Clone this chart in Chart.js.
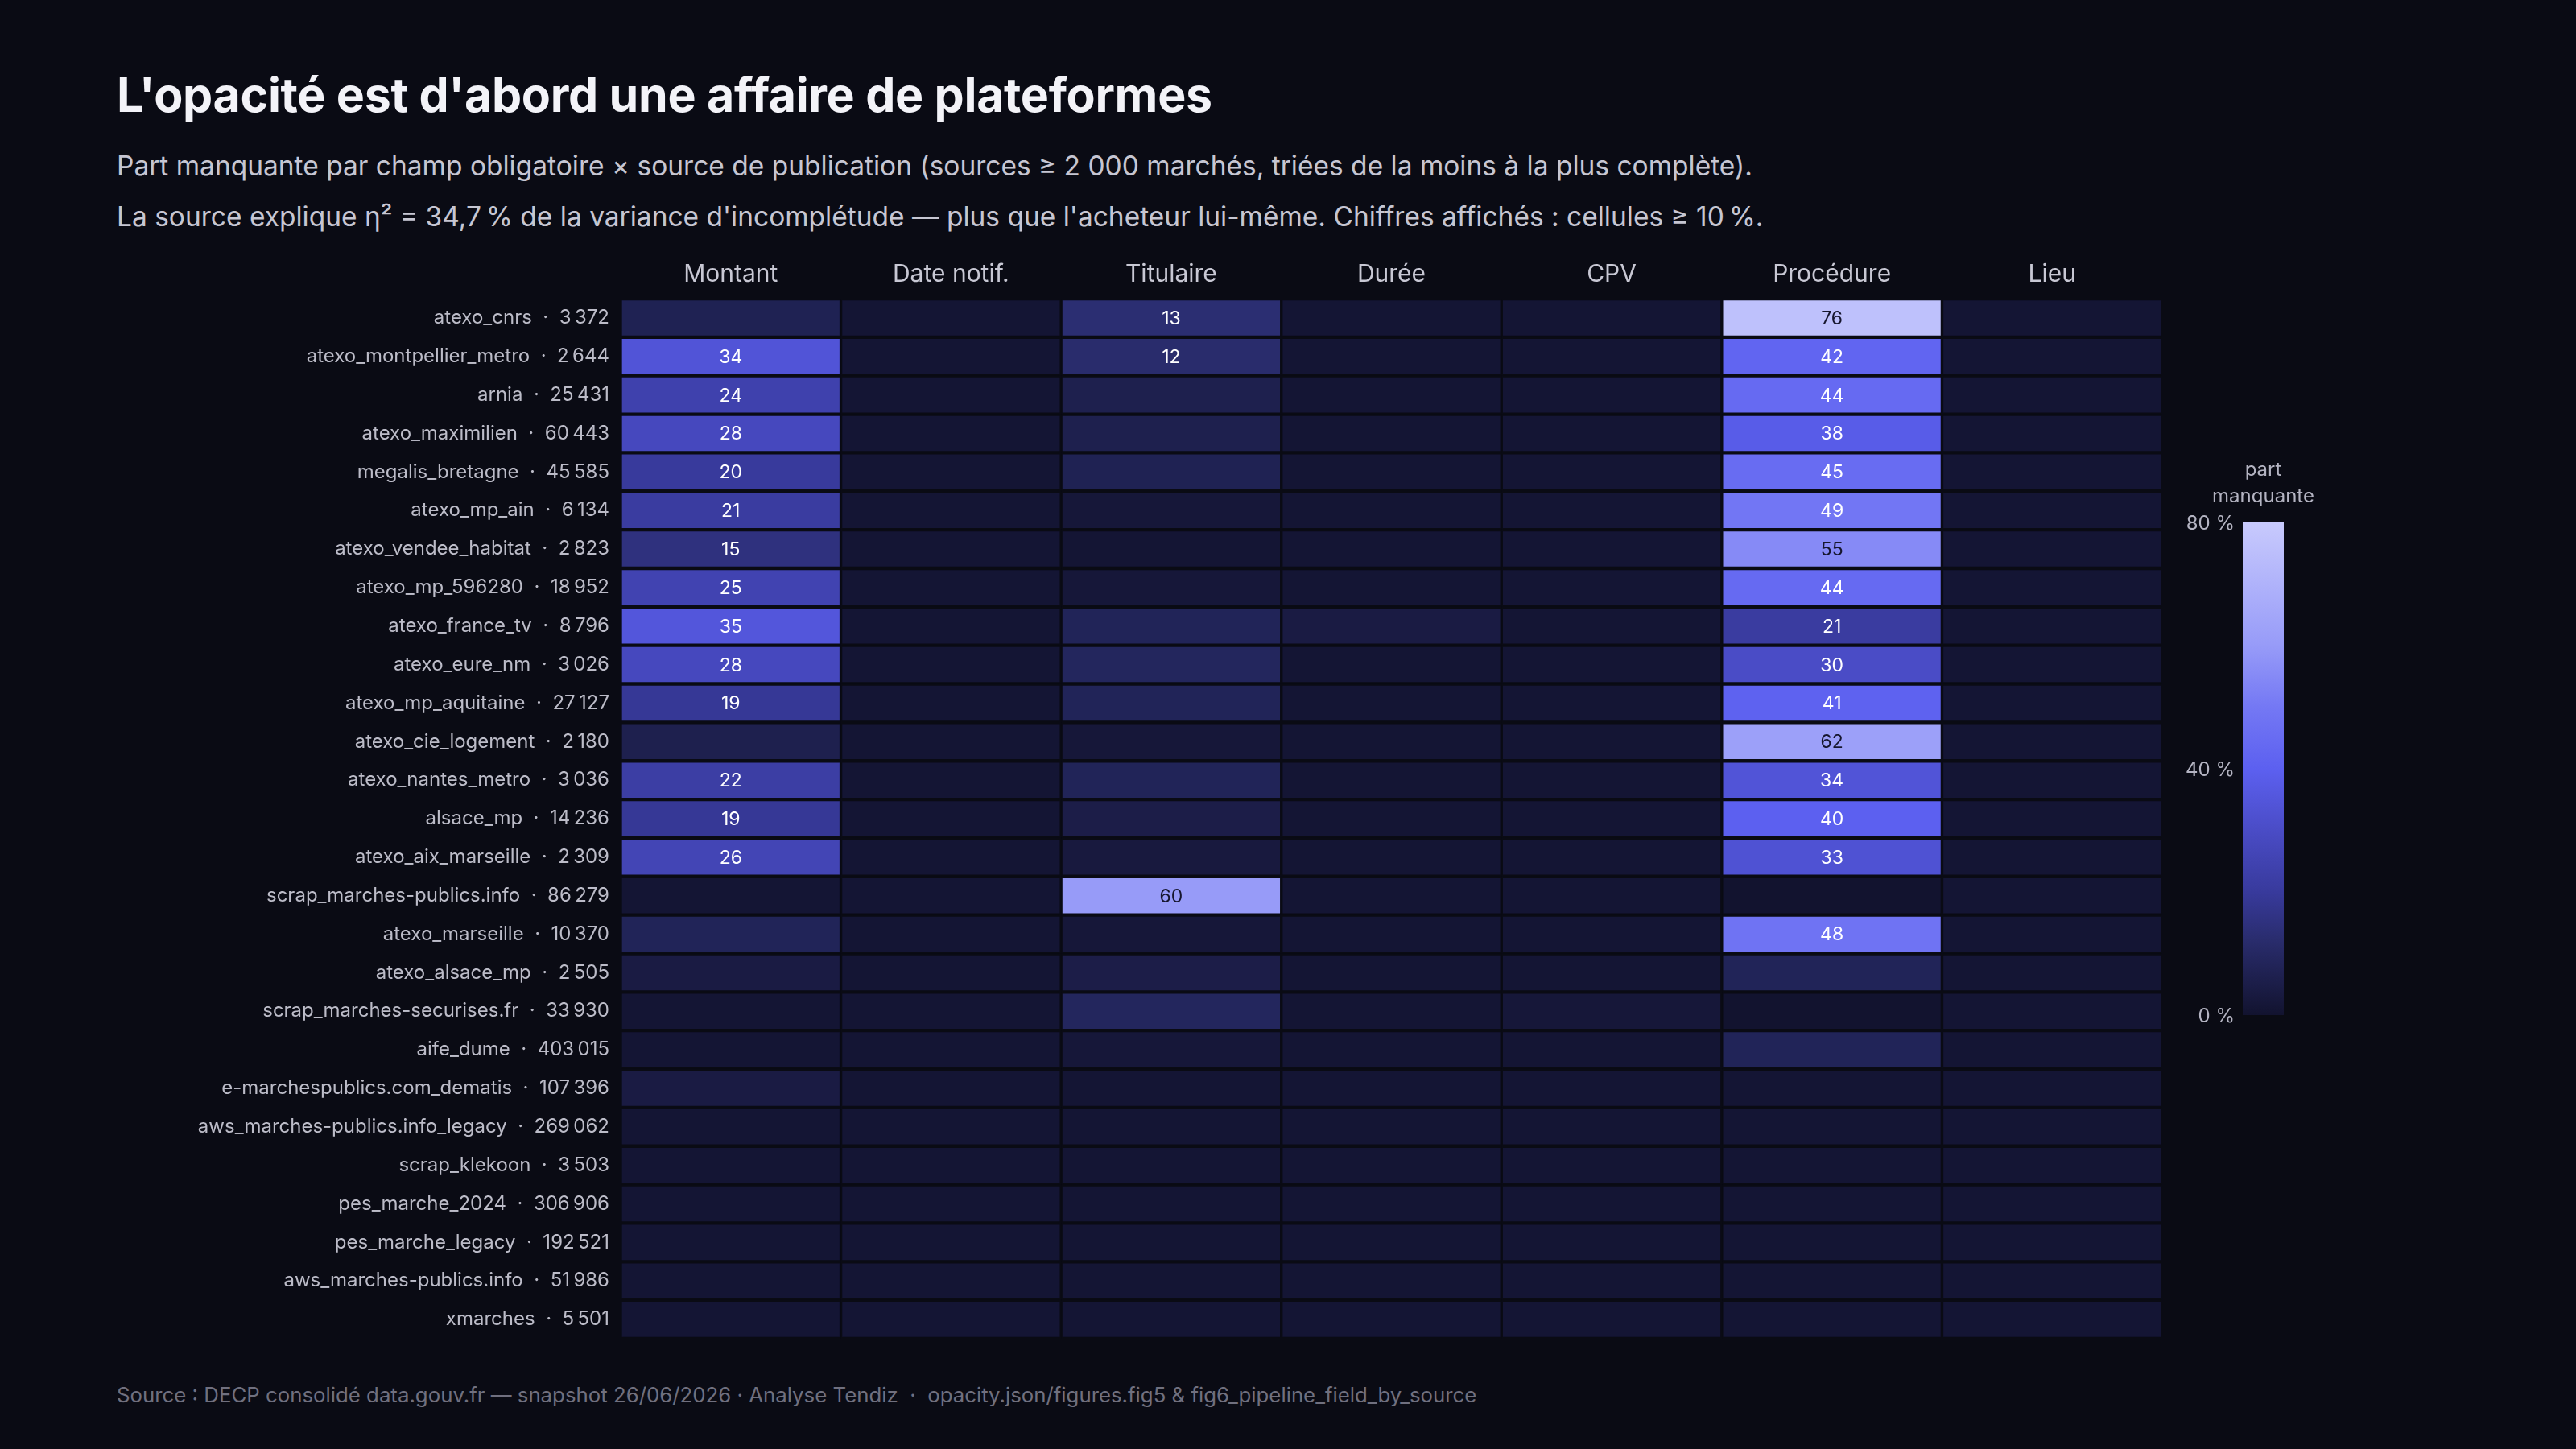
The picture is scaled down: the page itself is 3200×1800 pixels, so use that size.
<!DOCTYPE html>
<html>
<head>
<meta charset="utf-8">
<script src="https://cdn.jsdelivr.net/npm/chart.js@4.4.1/dist/chart.umd.min.js"></script>
<style>
  html, body { margin: 0; padding: 0; background: #0a0b14; }
  body { width: 3200px; height: 1800px; position: relative; overflow: hidden;
         font-family: Inter, "DejaVu Sans", sans-serif; }
  .txt { position: absolute; left: 145px; white-space: pre; }
  #title { top: 84px; font-size: 59px; line-height: 68px; font-weight: 700; color: #f3f3f8; letter-spacing: -0.3px; }
  #sub1 { top: 187px; font-size: 33.5px; line-height: 38px; color: #c6c6d2; }
  #sub2 { top: 250px; font-size: 33.5px; line-height: 38px; color: #c6c6d2; }
  #foot { top: 1717px; font-size: 25.8px; line-height: 32px; color: #70707f; }
  #wrap { position: absolute; left: 0; top: 0; width: 3200px; height: 1800px; }
</style>
</head>
<body>
<div class="txt" id="title">L'opacité est d'abord une affaire de plateformes</div>
<div class="txt" id="sub1">Part manquante par champ obligatoire × source de publication (sources ≥ 2 000 marchés, triées de la moins à la plus complète).</div>
<div class="txt" id="sub2">La source explique η² = 34,7&#8239;% de la variance d'incomplétude — plus que l'acheteur lui-même. Chiffres affichés : cellules ≥ 10&#8239;%.</div>
<div class="txt" id="foot">Source : DECP consolidé data.gouv.fr — snapshot 26/06/2026 · Analyse Tendiz  ·  opacity.json/figures.fig5 &amp; fig6_pipeline_field_by_source</div>
<div id="wrap"><canvas id="heatmap"></canvas></div>
<script>
// sources, sorted from least to most complete
const sources = [
  "atexo_cnrs", "atexo_montpellier_metro", "arnia", "atexo_maximilien", "megalis_bretagne",
  "atexo_mp_ain", "atexo_vendee_habitat", "atexo_mp_596280", "atexo_france_tv", "atexo_eure_nm",
  "atexo_mp_aquitaine", "atexo_cie_logement", "atexo_nantes_metro", "alsace_mp", "atexo_aix_marseille",
  "scrap_marches-publics.info", "atexo_marseille", "atexo_alsace_mp", "scrap_marches-securises.fr", "aife_dume",
  "e-marchespublics.com_dematis", "aws_marches-publics.info_legacy", "scrap_klekoon", "pes_marche_2024", "pes_marche_legacy",
  "aws_marches-publics.info", "xmarches"
];
const counts = [
  3372, 2644, 25431, 60443, 45585,
  6134, 2823, 18952, 8796, 3026,
  27127, 2180, 3036, 14236, 2309,
  86279, 10370, 2505, 33930, 403015,
  107396, 269062, 3503, 306906, 192521,
  51986, 5501
];
const fields = ["Montant", "Date notif.", "Titulaire", "Durée", "CPV", "Procédure", "Lieu"];

// missing share (%) per field, one value per source
const montant   = [7, 34, 24, 28, 20, 21, 15, 25, 35, 28, 19, 6, 22, 19, 26, 1, 8, 4, 1, 1, 4, 1, 1, 1, 1, 1, 1];
const dateNotif = [1, 1, 1, 1, 1, 1, 1, 1, 1, 1, 1, 1, 1, 1, 1, 1, 1, 1, 1, 1, 1, 1, 1, 1, 1, 1, 1];
const titulaire = [13, 12, 6, 6, 7, 2, 1, 2, 8, 9, 8, 2, 8, 5, 3, 60, 2, 5, 9, 2, 1, 1, 1, 1, 1, 1, 1];
const duree     = [1, 1, 1, 1, 1, 1, 1, 1, 4, 1, 1, 1, 1, 1, 1, 1, 1, 1, 1, 1, 1, 1, 1, 1, 1, 1, 1];
const cpv       = [1, 1, 1, 1, 1, 1, 1, 1, 1, 1, 1, 1, 1, 1, 1, 1, 1, 1, 2, 1, 1, 1, 1, 1, 1, 1, 1];
const procedure = [76, 42, 44, 38, 45, 49, 55, 44, 21, 30, 41, 62, 34, 40, 33, 0, 48, 8, 0, 8, 1, 1, 1, 1, 1, 1, 1];
const lieu      = [1, 1, 1, 1, 1, 1, 1, 1, 1, 1, 1, 1, 1, 1, 1, 1, 1, 1, 1, 1, 1, 1, 1, 1, 1, 1, 1];
const fieldValues = [montant, dateNotif, titulaire, duree, cpv, procedure, lieu];

const colorbarTicks = [0, 40, 80];

const FONT = 'Inter, "DejaVu Sans", sans-serif';
const BG = '#0a0b14';

// colour scale: value (%) -> rgb, clamped at 80
const colorStops = [
  [0, [18, 19, 47]],
  [12, [41, 44, 108]],
  [20, [56, 58, 156]],
  [30, [74, 76, 198]],
  [40, [92, 96, 240]],
  [50, [116, 120, 244]],
  [60, [151, 155, 248]],
  [80, [200, 202, 253]]
];
function colorFor(v) {
  v = Math.max(0, Math.min(80, v));
  for (let i = 1; i < colorStops.length; i++) {
    const [v1, c1] = colorStops[i];
    const [v0, c0] = colorStops[i - 1];
    if (v <= v1) {
      const t = (v - v0) / (v1 - v0);
      const c = c0.map((a, k) => Math.round(a + (c1[k] - a) * t));
      return `rgb(${c[0]},${c[1]},${c[2]})`;
    }
  }
  return 'rgb(200,202,253)';
}

function fmt(n) {
  return String(n).replace(/\B(?=(\d{3})+(?!\d))/g, '\u202f');
}
const rowLabels = sources.map((s, i) => `${s}  ·  ${fmt(counts[i])}`);

// numbers drawn on cells >= 10 %
const cellLabels = {
  id: 'cellLabels',
  afterDatasetsDraw(chart) {
    const ctx = chart.ctx;
    ctx.save();
    ctx.font = `23px ${FONT}`;
    ctx.textAlign = 'center';
    ctx.textBaseline = 'middle';
    chart.data.datasets.forEach((ds, di) => {
      chart.getDatasetMeta(di).data.forEach((el, i) => {
        const v = ds.values[i];
        if (v < 10) return;
        const p = el.getCenterPoint();
        ctx.fillStyle = v >= 52 ? '#16162e' : '#ffffff';
        ctx.fillText(String(v), p.x, p.y + 1);
      });
    });
    ctx.restore();
  }
};

// vertical colour bar on the right
const colorbar = {
  id: 'colorbar',
  afterDraw(chart) {
    const ctx = chart.ctx;
    const x = chart.chartArea.right + 100, w = 51;
    const top = 649, bottom = 1261;
    const g = ctx.createLinearGradient(0, bottom, 0, top);
    colorStops.forEach(([v]) => g.addColorStop(v / 80, colorFor(v)));
    ctx.save();
    ctx.fillStyle = g;
    ctx.fillRect(x, top, w, bottom - top);
    ctx.font = `24px ${FONT}`;
    ctx.fillStyle = '#b4b4c2';
    ctx.textAlign = 'center';
    ctx.textBaseline = 'middle';
    ctx.fillText('part', x + w / 2, 584);
    ctx.fillText('manquante', x + w / 2, 617);
    ctx.textAlign = 'right';
    colorbarTicks.forEach(t => {
      const y = bottom - (bottom - top) * t / 80;
      ctx.fillText(`${t} %`, x - 10, y + 2);
    });
    ctx.restore();
  }
};

new Chart(document.getElementById('heatmap'), {
  type: 'bar',
  data: {
    labels: rowLabels,
    datasets: fields.map((f, i) => ({
      label: f,
      data: fieldValues[i].map(() => 1),
      values: fieldValues[i],
      backgroundColor: ctx => colorFor(ctx.dataset.values[ctx.dataIndex]),
      borderColor: BG,
      borderWidth: { top: 2.5, bottom: 2.5, left: 2, right: 2 },
      borderSkipped: false,
      barPercentage: 1,
      categoryPercentage: 1
    }))
  },
  options: {
    indexAxis: 'y',
    responsive: true,
    maintainAspectRatio: false,
    animation: false,
    devicePixelRatio: 1,
    layout: { padding: { left: 71, right: 514, top: 311, bottom: 137 } },
    plugins: { legend: { display: false }, tooltip: { enabled: false } },
    scales: {
      x: {
        type: 'linear', position: 'top', stacked: true, min: 0, max: 7,
        grid: { display: false }, border: { display: false },
        afterBuildTicks: axis => { axis.ticks = fields.map((f, i) => ({ value: i + 0.5 })); },
        afterFit: axis => { axis.height = 60; },
        ticks: {
          color: '#c8c8d4', font: { size: 30, family: FONT }, padding: 4,
          autoSkip: false, maxRotation: 0,
          callback: (v, i) => fields[i]
        }
      },
      y: {
        type: 'category', stacked: true,
        grid: { display: false }, border: { display: false },
        afterFit: axis => { axis.width = 700; },
        ticks: { color: '#bcbcc8', font: { size: 24, family: FONT }, padding: 6, autoSkip: false }
      }
    }
  },
  plugins: [cellLabels, colorbar]
});
</script>
</body>
</html>
